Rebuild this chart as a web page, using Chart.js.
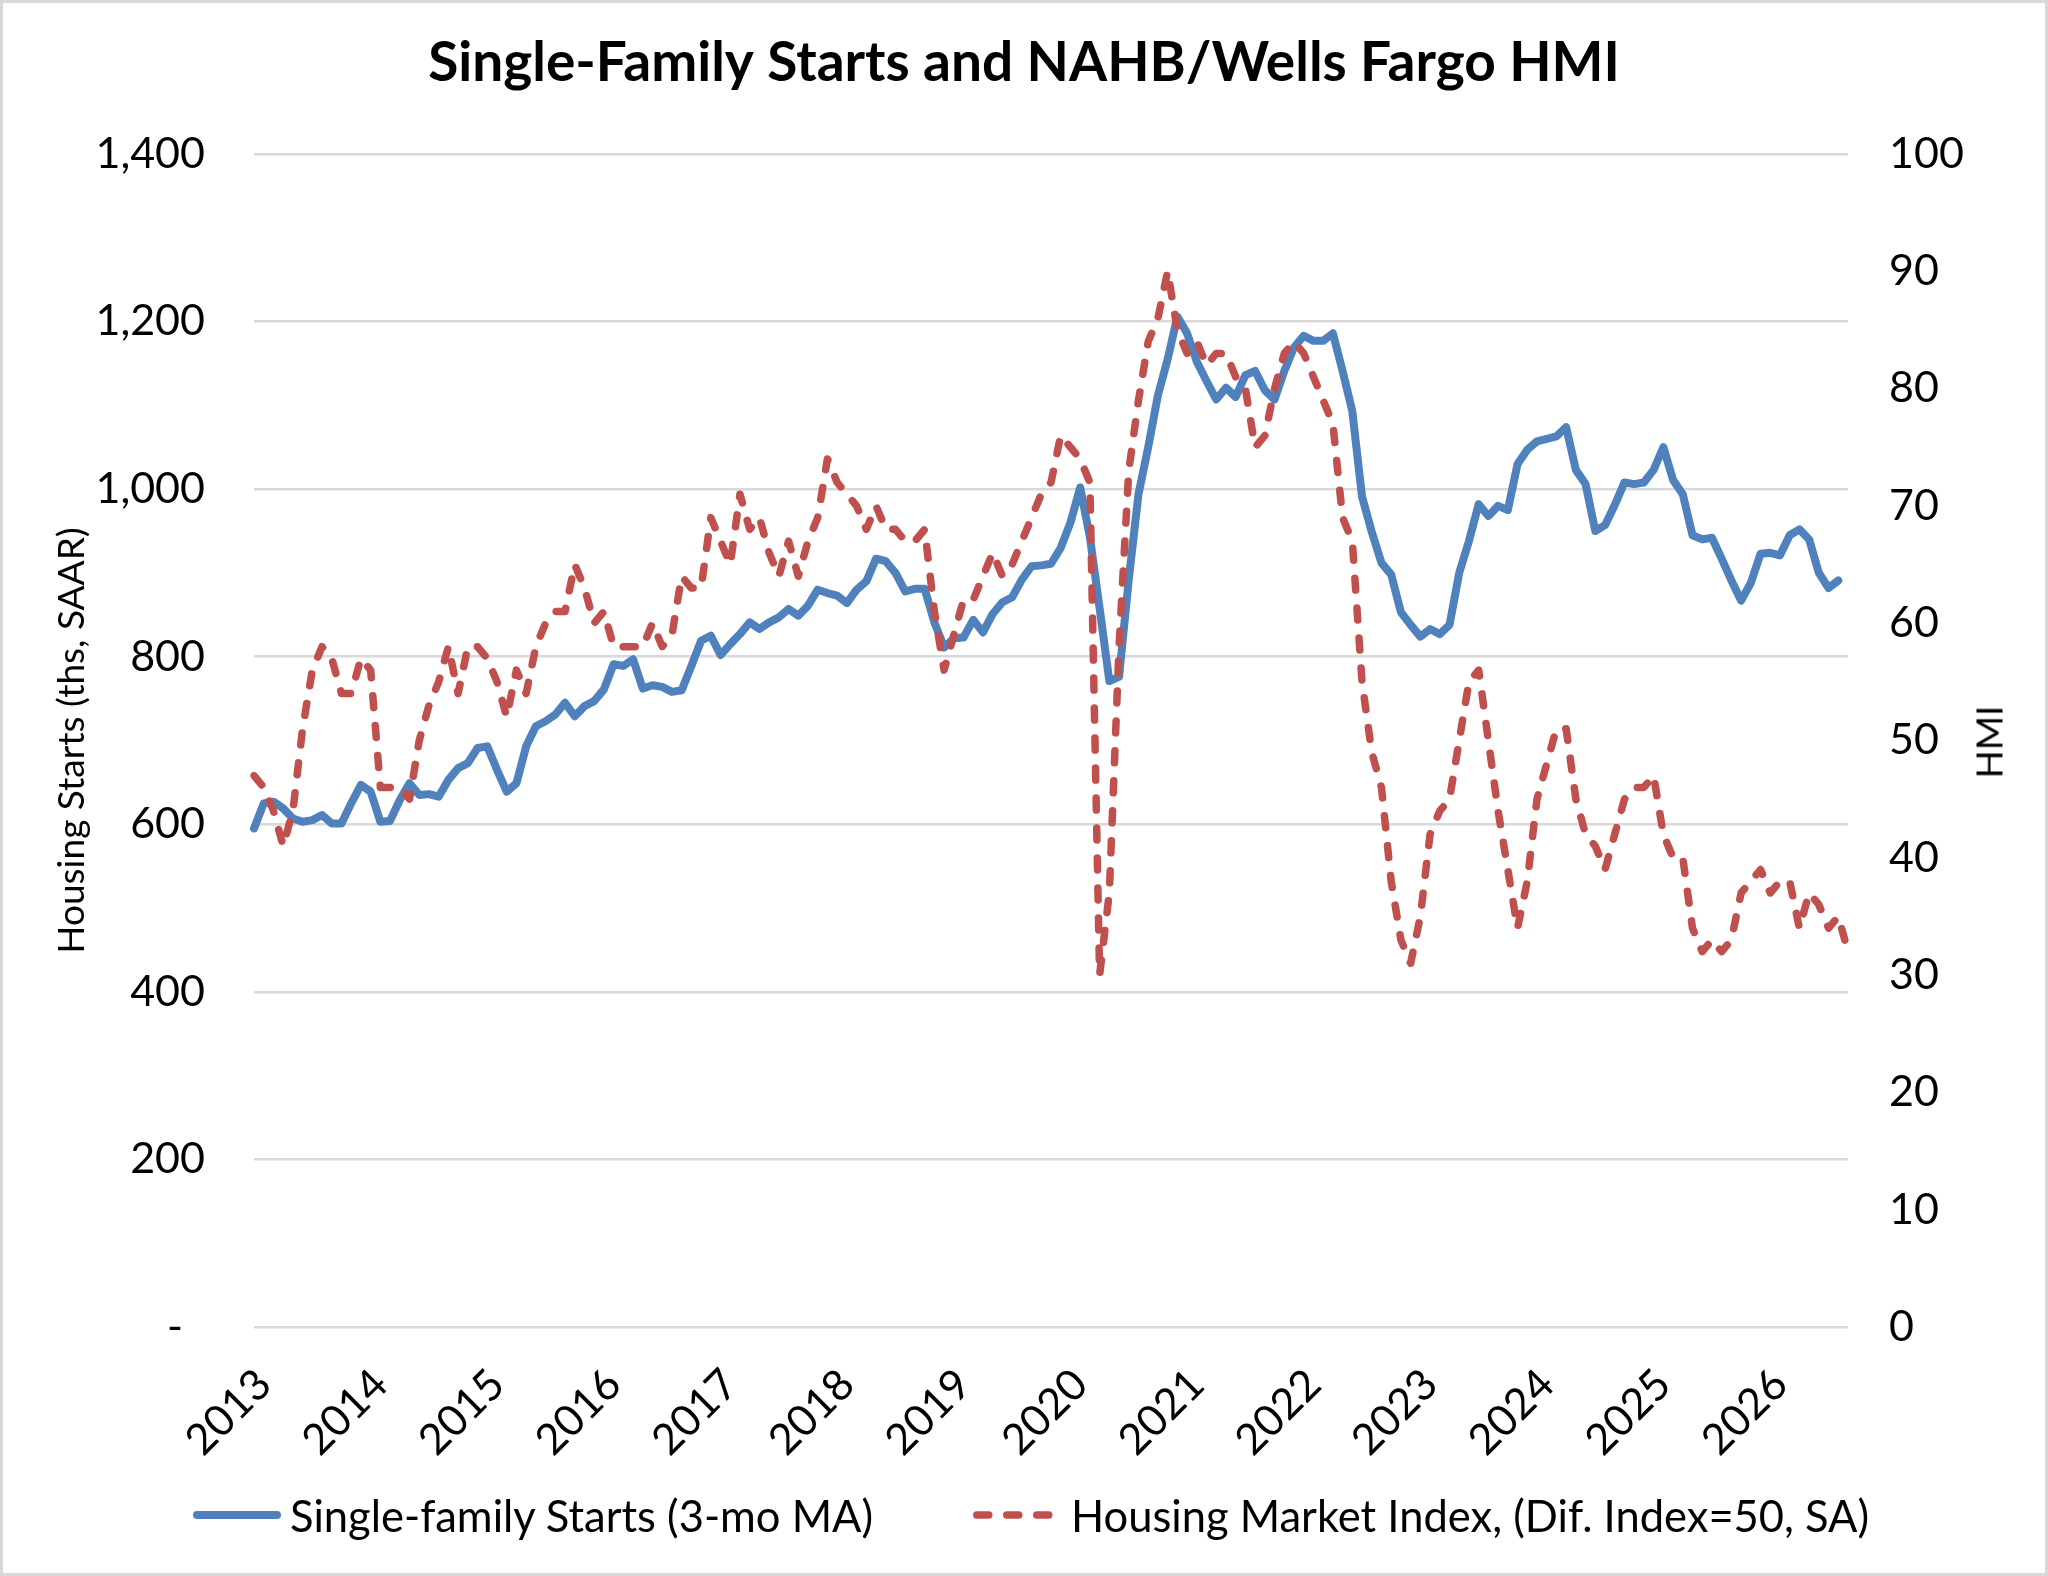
<!DOCTYPE html>
<html lang="en">
<head>
<meta charset="UTF-8">
<title>Single-Family Starts and NAHB/Wells Fargo HMI</title>
<script src="https://cdn.jsdelivr.net/npm/chart.js@4"></script>
<style>
  html, body { margin: 0; padding: 0; background: #fff; overflow: hidden; }
  #wrap { position: relative; width: 2048px; height: 1576px; }
  #frame { position: absolute; left: 0; top: 0; width: 2048px; height: 1576px; box-sizing: border-box;
           border: 3px solid #d9d9d9; pointer-events: none; }
  #hmiTitle { position: absolute; left: 1988px; top: 742px; transform: translate(-50%, -50%) rotate(-90deg);
              font: 37px Lato, "Open Sans", sans-serif; color: #000; white-space: nowrap; }
  .leg { position: absolute; top: 1515px; transform: translateY(-50%); display: flex; align-items: center;
         font: 43.5px Lato, "Open Sans", sans-serif; color: #000; white-space: nowrap; }
  .leg svg { display: block; }
</style>
</head>
<body>
<div id="wrap">
  <canvas id="chart" width="2048" height="1576"></canvas>
  <div id="hmiTitle">HMI</div>
  <div id="legend"></div>
  <div id="frame"></div>
</div>

<script>
// x axis: one category per month, Jan 2013 onward; a year label each January
const yearLabels = ['2013','2014','2015','2016','2017','2018','2019','2020','2021','2022','2023','2024','2025','2026'];
const monthCount = 165;

// single-family starts, 3-month moving average (ths, SAAR), left axis
const startsMA = [
  595, 625, 627, 619, 607, 603, 605, 611, 601, 601, 625, 647,
  639, 603, 604, 629, 649, 635, 636, 633, 653, 667, 673, 691,
  693, 665, 639, 649, 693, 717, 723, 731, 745, 729, 741, 747,
  761, 791, 789, 797, 762, 766, 764, 758, 760, 789, 819, 825,
  802, 815, 827, 841, 833, 841, 847, 857, 849, 861, 880, 876,
  873, 864, 880, 890, 917, 914, 900, 878, 881, 881, 841, 811,
  822, 823, 844, 829, 851, 865, 871, 892, 908, 909, 911, 930,
  960, 1002, 943, 858, 771, 776, 892, 994, 1050, 1112, 1155, 1206,
  1186, 1152, 1129, 1107, 1121, 1110, 1136, 1141, 1118, 1107, 1141, 1169,
  1183, 1177, 1177, 1186, 1141, 1093, 991, 949, 912, 898, 853, 838,
  824, 833, 827, 838, 900, 938, 982, 968, 980, 975, 1030, 1047,
  1057, 1060, 1063, 1074, 1023, 1006, 950, 957, 981, 1008, 1006, 1008,
  1023, 1050, 1011, 994, 945, 940, 942, 917, 891, 867, 888, 923,
  924, 921, 945, 952, 940, 900, 882, 891
];

// NAHB/Wells Fargo Housing Market Index, right axis
const hmi = [
  47, 46, 44, 41, 44, 51, 56, 58, 57, 54, 54, 57,
  56, 46, 46, 46, 45, 50, 53, 55, 58, 54, 58, 58,
  57, 55, 52, 56, 54, 58, 60, 61, 61, 65, 63, 60,
  61, 58, 58, 58, 58, 60, 58, 59, 64, 63, 63, 69,
  67, 65, 71, 68, 69, 66, 64, 67, 64, 67, 69, 74,
  72, 71, 70, 68, 70, 68, 68, 67, 67, 68, 61, 56,
  59, 62, 62, 64, 66, 64, 65, 67, 69, 71, 72, 76,
  75, 74, 72, 30, 37, 58, 73, 79, 84, 86, 90, 85,
  83, 84, 82, 83, 83, 81, 80, 75, 76, 80, 83, 84,
  83, 81, 79, 77, 69, 67, 55, 49, 46, 38, 33, 31,
  35, 42, 44, 45, 50, 55, 56, 50, 44, 39, 34, 38,
  45, 48, 51, 51, 45, 42, 41, 39, 42, 45, 46, 46,
  47, 42, 40, 40, 34, 32, 33, 32, 33, 37, 38, 39,
  37, 38, 38, 34, 37, 36, 34, 35, 32
];

const seriesNames = ['Single-family Starts (3-mo MA)', 'Housing Market Index, (Dif. Index=50, SA)'];

const categories = [];
for (let i = 0; i < monthCount; i++) {
  categories.push(i % 12 === 0 ? yearLabels[i / 12] : '');
}

const FONT = 'Lato, "Open Sans", sans-serif';
const BLUE = '#4f81bd', RED = '#c0504d', GRID = '#d9d9d9';

const chart = new Chart(document.getElementById('chart'), {
  type: 'line',
  data: {
    labels: categories,
    datasets: [
      { label: seriesNames[0], data: startsMA, yAxisID: 'y', order: 1,
        borderColor: BLUE, backgroundColor: BLUE, borderWidth: 8, pointRadius: 0, tension: 0,
        borderJoinStyle: 'round', borderCapStyle: 'round', fill: false },
      { label: seriesNames[1], data: hmi, yAxisID: 'y1', order: 0,
        borderColor: RED, backgroundColor: RED, borderWidth: 7.5, borderDash: [12, 18], pointRadius: 0, tension: 0,
        borderJoinStyle: 'round', borderCapStyle: 'round', fill: false }
    ]
  },
  options: {
    responsive: false,
    animation: false,
    devicePixelRatio: 1,
    layout: { padding: 0 },
    plugins: {
      legend: { display: false },
      tooltip: { enabled: false },
      title: {
        display: true,
        text: 'Single-Family Starts and NAHB/Wells Fargo HMI',
        color: '#000',
        font: { family: FONT, size: 55, weight: 'bold' },
        padding: { top: 30, bottom: 58 }
      }
    },
    scales: {
      x: {
        grid: { display: false, drawTicks: false },
        border: { display: false },
        ticks: { autoSkip: false, minRotation: 45, maxRotation: 45, padding: 32, labelOffset: 10,
                 color: '#000', font: { family: FONT, size: 43 } },
        afterFit: s => { s.height = 249; }
      },
      y: {
        position: 'left', min: 0, max: 1400,
        grid: { color: GRID, lineWidth: 2.5, drawTicks: false },
        border: { display: false },
        ticks: { stepSize: 200, padding: 49, color: '#000', font: { family: FONT, size: 43 },
                 callback: v => v === 0 ? '-  ' : v.toLocaleString('en-US') },
        title: { display: true, text: 'Housing Starts (ths, SAAR)', color: '#000',
                 font: { family: FONT, size: 37 }, padding: { top: 50, bottom: 0 } },
        afterFit: s => { s.width = 254; }
      },
      y1: {
        position: 'right', min: 0, max: 100,
        grid: { drawOnChartArea: false, drawTicks: false },
        border: { display: false },
        ticks: { stepSize: 10, padding: 41, color: '#000', font: { family: FONT, size: 43 } },
        afterFit: s => { s.width = 200; }
      }
    }
  }
});

// legend under the plot, built from the datasets
const legendSpots = [{ left: 193, w: 88, gap: 9 }, { left: 973, w: 82, gap: 16 }];
const legendEl = document.getElementById('legend');
chart.data.datasets.forEach((ds, i) => {
  const spot = legendSpots[i];
  const item = document.createElement('div');
  item.className = 'leg';
  item.style.left = spot.left + 'px';
  const lw = ds.borderWidth;
  const dash = ds.borderDash ? ' stroke-dasharray="' + ds.borderDash.join(' ') + '"' : '';
  item.innerHTML =
    '<svg width="' + spot.w + '" height="12" style="margin-right:' + spot.gap + 'px">' +
    '<line x1="' + (lw / 2) + '" y1="6" x2="' + (spot.w - lw / 2) + '" y2="6" stroke="' + ds.borderColor +
    '" stroke-width="' + lw + '" stroke-linecap="round"' + dash + '/></svg>' +
    '<span>' + ds.label + '</span>';
  legendEl.appendChild(item);
});
</script>
</body>
</html>
